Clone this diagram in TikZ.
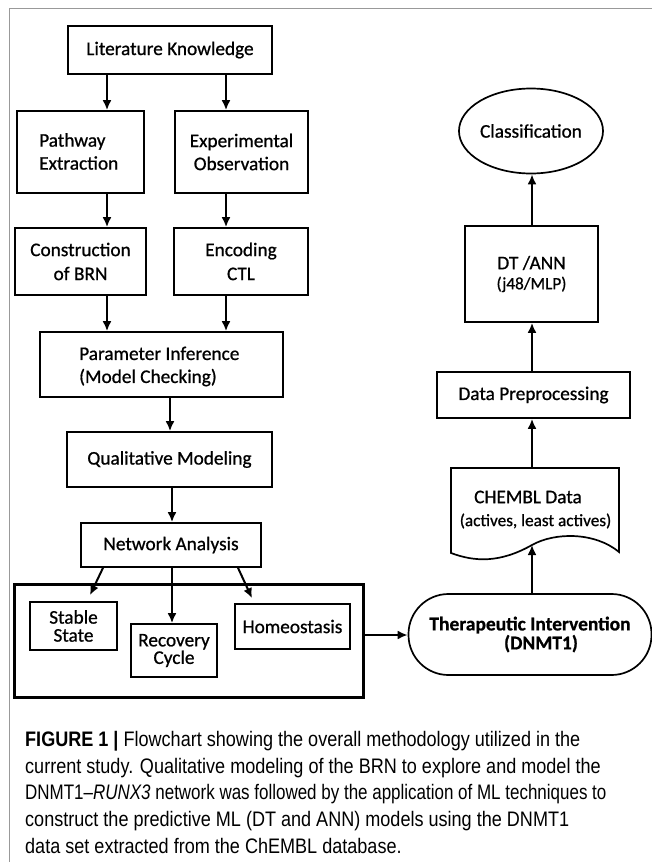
\documentclass[tikz,border=0pt]{standalone}
\usepackage{fontspec}
\usepackage{graphicx}
\setmainfont{Carlito}[FakeBold=0.8]
\newfontfamily\capfont[FakeStretch=0.86]{Liberation Sans}
\usetikzlibrary{arrows.meta,calc,shapes.geometric}
\newcommand{\bxfont}{\fontsize{19.3}{23}\selectfont}
\newcommand{\smfont}{\fontsize{17.2}{20}\selectfont}
\begin{document}
\begin{tikzpicture}[x=1pt,y=-1pt,
  box/.style={draw, line width=1.7pt, inner sep=0pt, align=center, font=\bxfont},
  txt/.style={inner sep=0pt, font=\bxfont},
  arr/.style={line width=2pt, -{Latex[length=10pt,width=9pt]}},
  frameline/.style={draw=black!40, line width=1pt}]
\fill[white] (0,0) rectangle (652,862);
\useasboundingbox (0,0) rectangle (652,862);
\draw[frameline] (9,862) -- (9,8) -- (652,8);

% left column
\node[box, minimum width=204pt, minimum height=48pt] (lk) at (170,50) {Literature Knowledge};
\node[box, minimum width=127pt, minimum height=82pt] (pw) at (80.5,152) {};
\node[txt, anchor=west, align=left] (pwt) at (39,151.5) {Pathway\\Extraction};
\node[box, minimum width=133pt, minimum height=82pt] (ex) at (241.5,152) {Experimental\\Observation};
\node[box, minimum width=131pt, minimum height=67pt, font=\fontsize{19.3}{24}\selectfont] (cb) at (80.5,261.5) {Construction\\of BRN};
\node[box, minimum width=134pt, minimum height=67pt, font=\fontsize{19.3}{24}\selectfont] (en) at (241,261.5) {Encoding\\CTL};
\node[box, minimum width=243pt, minimum height=65pt] (pi) at (161.5,364.5) {};
\node[txt, anchor=west, align=left] (pit) at (79,366.5) {Parameter Inference\\(Model Checking)};
\node[box, minimum width=205pt, minimum height=55pt] (qm) at (169.5,459.5) {Qualitative Modeling};
\node[box, minimum width=180pt, minimum height=44pt] (na) at (171,545) {Network Analysis};
\node[box, line width=3pt, minimum width=349pt, minimum height=113pt] (big) at (188.5,640.5) {};
\node[box, minimum width=87pt, minimum height=48pt, font=\fontsize{19.3}{18}\selectfont] (ss) at (73.5,626) {Stable\\State};
\node[box, minimum width=86pt, minimum height=53pt, font=\fontsize{19.3}{16}\selectfont] (rc) at (174,650.5) {Recovery\\Cycle};
\node[box, minimum width=115pt, minimum height=45pt] (ho) at (292.5,626.5) {Homeostasis};

% right column
\node[box, rounded corners=40pt, minimum width=243pt, minimum height=81pt, font=\bfseries\fontsize{19.5}{19}\selectfont] (ti) at (530,634.5) {Therapeutic Intervention\\\hspace*{22pt}(DNMT1)};
\draw[line width=1.7pt] (451,468) -- (619,468) -- (619,552)
  .. controls (595,532) and (555,532) .. (532,545)
  .. controls (500,563) and (475,562) .. (451,553) -- cycle;
\node[txt] (cd1) at (528,497) {CHEMBL Data};
\node[txt, font=\smfont] (cd2) at (535.5,521) {(actives, least actives)};
\coordinate (cdtop) at (532,468);
\coordinate (cdbot) at (532,545);
\node[box, minimum width=193pt, minimum height=46pt] (dp) at (533.5,395) {Data Preprocessing};
\node[box, minimum width=133pt, minimum height=96pt, font=\fontsize{19.3}{20}\selectfont] (dt) at (531.5,274) {DT /ANN\\{\smfont (j48/MLP)}};
\node[box, ellipse, minimum width=127pt, minimum height=85pt] (cl) at (531,131) {Classification};

% x positions of connectors
\coordinate (xa) at (107,0);
\coordinate (xb) at (226,0);
\coordinate (xc) at (532,0);
\coordinate (xd) at (170,0);
\coordinate (xe) at (172,0);
\coordinate (xf) at (103,0);
\coordinate (xg) at (238,0);
\coordinate (yti) at (0,635);

\draw[arr] (lk.south -| xa) -- (pw.north -| xa);
\draw[arr] (lk.south -| xb) -- (ex.north -| xb);
\draw[arr] (pw.south -| xa) -- (cb.north -| xa);
\draw[arr] (ex.south -| xb) -- (en.north -| xb);
\draw[arr] (cb.south -| xa) -- (pi.north -| xa);
\draw[arr] (en.south -| xb) -- (pi.north -| xb);
\draw[arr] (pi.south -| xd) -- (qm.north -| xd);
\draw[arr] (qm.south -| xe) -- (na.north -| xe);
\draw[arr] (na.south -| xe) -- (rc.north -| xe);
\draw[arr] (na.south -| xf) -- ($(ss.north)+(16.5,-6)$);
\draw[arr] (na.south -| xg) -- ($(ho.north)+(-40.5,-5)$);
\draw[arr] (big.east |- yti) -- (ti.west |- yti);
\draw[arr] (ti.north -| xc) -- (cdbot);
\draw[arr] (cdtop) -- (dp.south -| xc);
\draw[arr] (dp.north -| xc) -- (dt.south -| xc);
\draw[arr] (dt.north -| xc) -- (cl.south -| xc);

% caption
\node[inner sep=0pt, anchor=north west, align=left, font=\capfont\fontsize{21}{26.7}\selectfont] (cap) at (25,731)
{\textbf{FIGURE 1 |} Flowchart showing the overall methodology utilized in the\\
current study. Qualitative modeling of the BRN to explore and model the\\
\scalebox{0.94}[1]{DNMT1–\textit{RUNX3} network was followed by the application of ML techniques to}\\
construct the predictive ML (DT and ANN) models using the DNMT1\\
data set extracted from the ChEMBL database.};
\end{tikzpicture}
\end{document}
